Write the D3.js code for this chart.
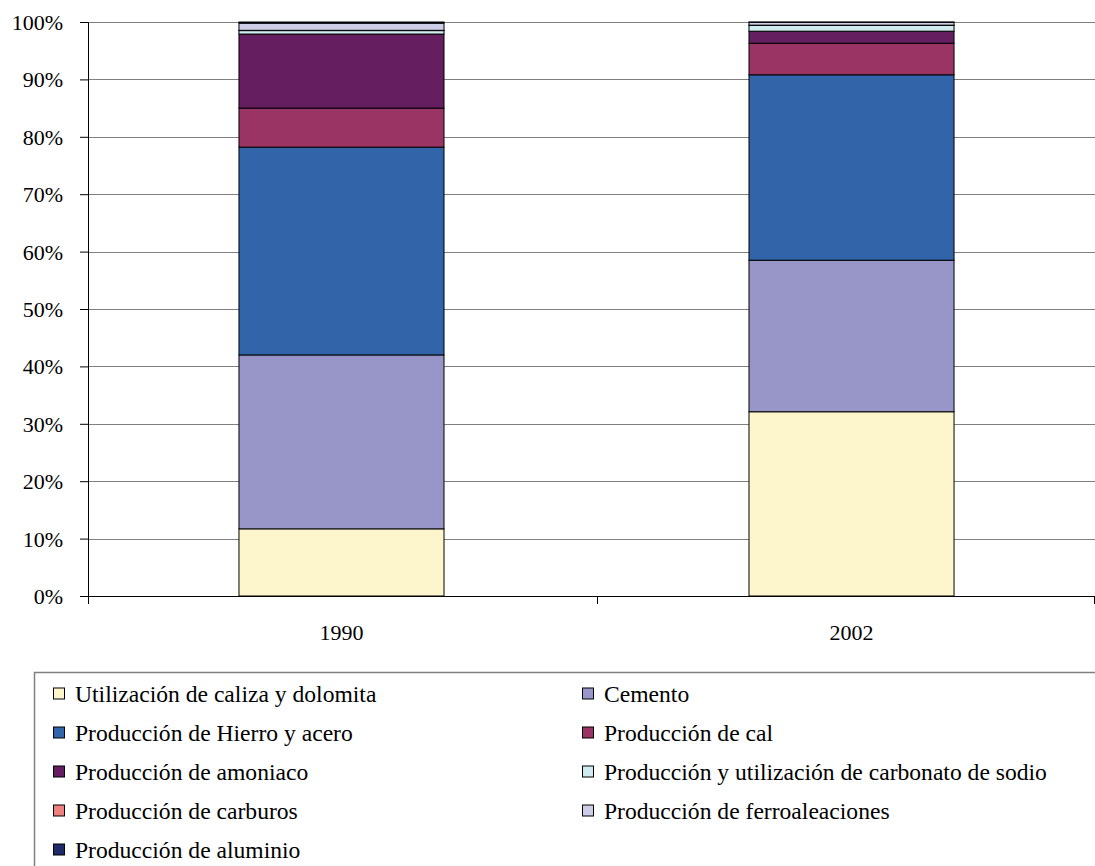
<!DOCTYPE html>
<html><head><meta charset="utf-8">
<script src="https://cdn.jsdelivr.net/npm/d3@7"></script>
<style>body{margin:0;background:#fff}svg{display:block} text{font-family:"Liberation Serif","Times New Roman",serif}</style>
</head><body>
<script>
const categories = ["1990", "2002"];
const seriesNames = ["Utilización de caliza y dolomita","Cemento","Producción de Hierro y acero","Producción de cal","Producción de amoniaco","Producción y utilización de carbonato de sodio","Producción de carburos","Producción de ferroaleaciones","Producción de aluminio"];
const values1990 = [11.7, 30.3, 36.2, 6.8, 12.9, 0.6, 0.05, 1.25, 0.2];
const values2002 = [32.1, 26.4, 32.3, 5.5, 2.1, 1.0, 0.05, 0.5, 0.05];
const colors = ["#fdf6cc","#9896c8","#3164a8","#9a3464","#651f61","#d0ebf0","#ef8080","#cccde6","#202a68"];
const yTicks = [0,10,20,30,40,50,60,70,80,90,100];

const W = 1095, H = 866;
const svg = d3.select("body").append("svg").attr("width", W).attr("height", H);

const pLeft = 88, pRight = 1095, pTop = 22, pBottom = 596;
const x = d3.scaleBand().domain(categories).range([pLeft, 1105]).paddingInner(0.598).paddingOuter(0.296);
const y = d3.scaleLinear().domain([0, 100]).range([pBottom, pTop]);

// gridlines
svg.append("g").selectAll("line").data(yTicks.slice(1)).join("line")
  .attr("x1", pLeft).attr("x2", pRight).attr("y1", d => Math.round(y(d)) + 0.5).attr("y2", d => Math.round(y(d)) + 0.5)
  .attr("stroke", "#808080").attr("stroke-width", 1);

const rows = [values1990, values2002];
const stackData = categories.map((c, i) => {
  const o = {cat: c};
  seriesNames.forEach((s, j) => o[s] = rows[i][j]);
  return o;
});
const stack = d3.stack().keys(seriesNames)(stackData);
svg.append("g").selectAll("g").data(stack).join("g")
  .attr("fill", (d, i) => colors[i])
  .selectAll("rect").data(d => d).join("rect")
  .attr("x", d => x(d.data.cat)).attr("width", x.bandwidth())
  .attr("y", d => y(d[1])).attr("height", d => Math.max(0, y(d[0]) - y(d[1])))
  .attr("stroke", "#000").attr("stroke-width", 1);

// y axis
const yAxis = d3.axisLeft(y).tickValues(yTicks).tickFormat(d => d + "%").tickSize(8).tickPadding(17);
const ga = svg.append("g").attr("transform", `translate(${pLeft},0)`).call(yAxis);
ga.attr("font-family", null).attr("font-size", null);
ga.select(".domain").attr("stroke", "#000");
ga.selectAll("line").attr("stroke", "#000");
ga.selectAll("text").attr("font-size", 22).attr("fill", "#000").attr("dy", "0.34em");

// x axis
svg.append("line").attr("x1", pLeft).attr("x2", pRight).attr("y1", pBottom + 0.5).attr("y2", pBottom + 0.5).attr("stroke", "#000");
const xt = [pLeft, 597, pRight - 1];
svg.append("g").selectAll("line").data(xt).join("line")
  .attr("x1", d => d + 0.5).attr("x2", d => d + 0.5).attr("y1", pBottom).attr("y2", pBottom + 8).attr("stroke", "#000");
svg.append("g").selectAll("text").data(categories).join("text")
  .attr("x", d => x(d) + x.bandwidth() / 2).attr("y", 640).attr("text-anchor", "middle")
  .attr("font-size", 22).text(d => d);

// legend
svg.append("rect").attr("x", 34.5).attr("y", 672.5).attr("width", 1100).attr("height", 300)
  .attr("fill", "none").attr("stroke", "#808080").attr("stroke-width", 1.5);
const lg = svg.append("g").selectAll("g").data(seriesNames).join("g")
  .attr("transform", (d, i) => `translate(${i % 2 === 0 ? 53 : 582},${693.5 + Math.floor(i / 2) * 39})`);
lg.append("rect").attr("x", 0.5).attr("y", -5.5).attr("width", 11).attr("height", 11)
  .attr("fill", (d, i) => colors[i]).attr("stroke", "#000").attr("stroke-width", 1);
lg.append("text").attr("x", 22).attr("y", 8).attr("font-size", 23.6).text(d => d);
</script>
</body></html>
